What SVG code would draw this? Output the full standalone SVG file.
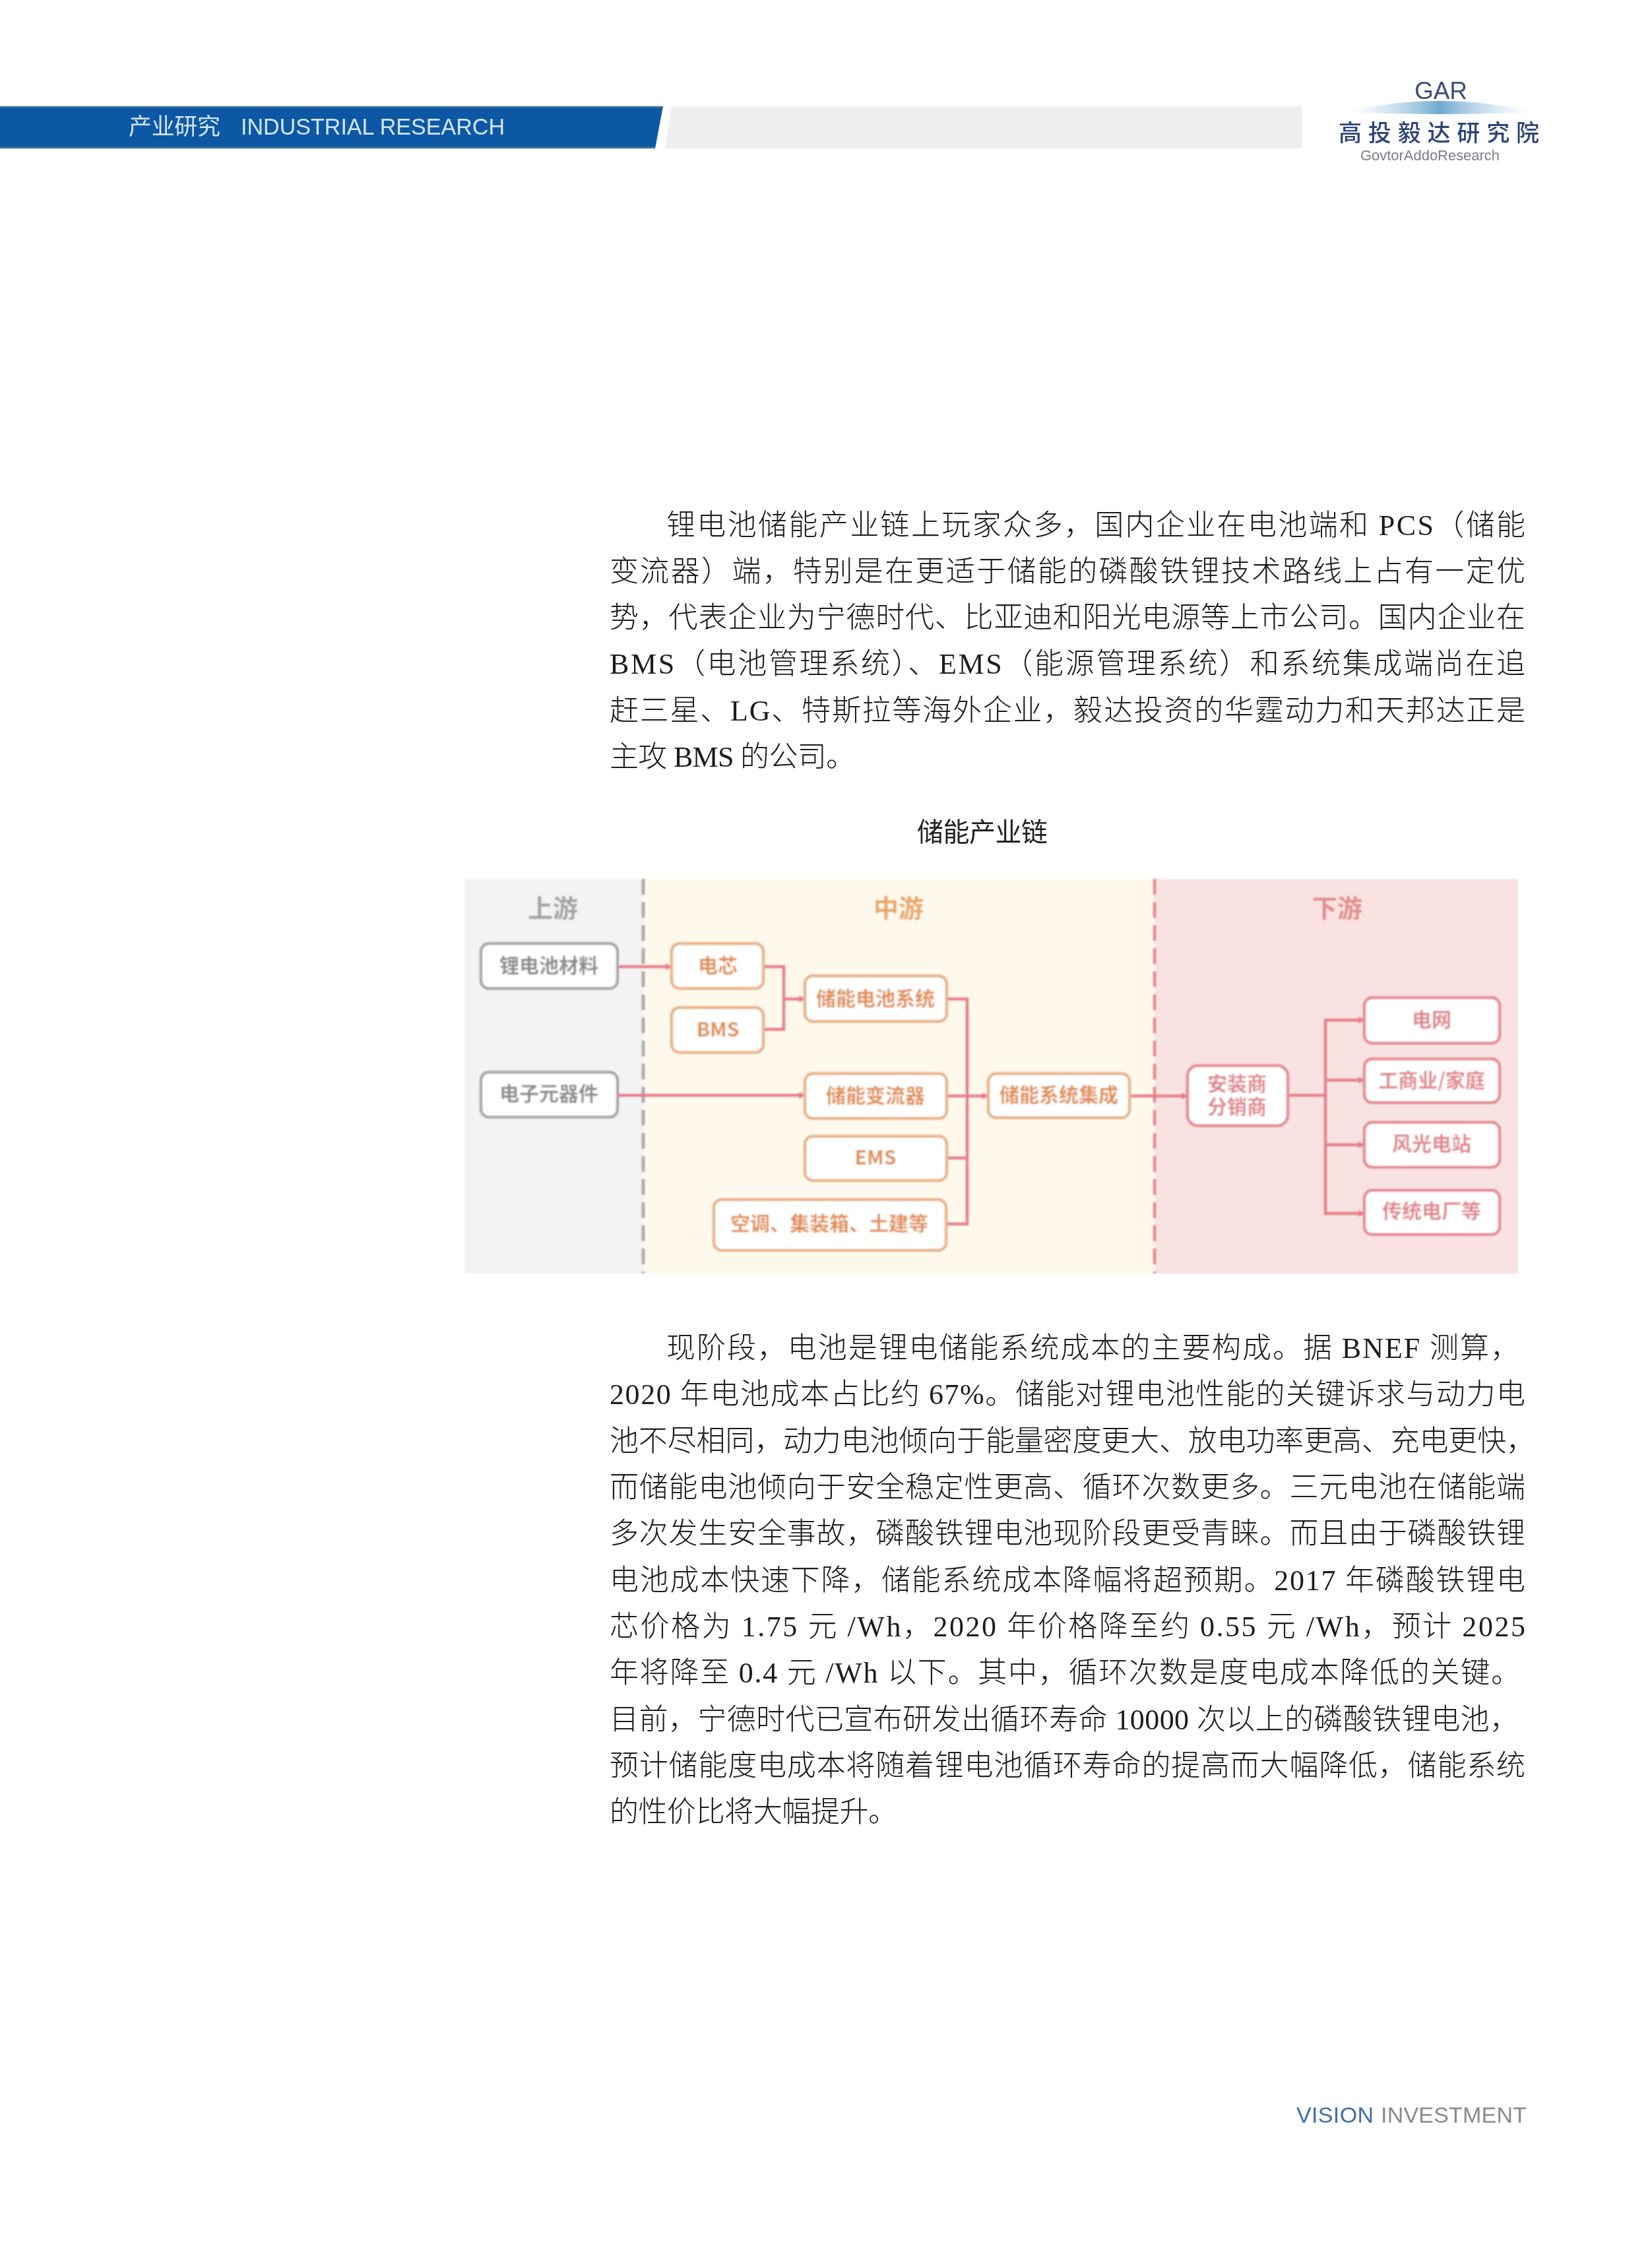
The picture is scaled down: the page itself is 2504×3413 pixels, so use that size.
<svg xmlns="http://www.w3.org/2000/svg" width="2504" height="3413" viewBox="0 0 2504 3413">
<style>
text{font-family:"Liberation Sans","Noto Sans CJK SC",sans-serif}
.body{font-family:"Liberation Serif","Noto Sans CJK SC",serif;font-size:44px;fill:#1f1f1f;font-weight:300}
.n{font-size:30px;font-weight:700;text-anchor:middle;font-family:"Noto Sans CJK SC","Liberation Sans",sans-serif}
.n2{font-size:30px;font-weight:700;text-anchor:middle;font-family:"Liberation Sans","Noto Sans CJK SC",sans-serif}
.head{font-size:38px;font-weight:700;text-anchor:middle;font-family:"Noto Sans CJK SC",sans-serif}
.box{fill:#fff;stroke-width:4.500}
.g .box{stroke:#a9a9a9}.g text{fill:#8c8c8c}
.o .box{stroke:#e9b48a}.o text{fill:#e38e52}
.r .box{stroke:#e68d92}.r text{fill:#e1868b}
.c{fill:none;stroke:#e77f88;stroke-width:4.500}
.div{fill:none;stroke-width:5;stroke-dasharray:24 11}
.soft{filter:url(#s)}
.soft2{filter:url(#t)}
</style>
<defs>
<filter id="s" x="-5%" y="-5%" width="110%" height="110%"><feGaussianBlur stdDeviation="1"/></filter>
<filter id="t" x="-2%" y="-2%" width="104%" height="104%"><feGaussianBlur stdDeviation="0.6"/></filter>
<marker id="a" markerUnits="userSpaceOnUse" markerWidth="10" markerHeight="12" refX="9" refY="6" orient="auto"><path d="M0,1 L10,6 L0,11 Z" fill="#e77f88"/></marker>
<linearGradient id="arc" x1="0" x2="1" y1="0" y2="0"><stop offset="0" stop-color="#cfe2f0" stop-opacity="0"/><stop offset=".5" stop-color="#6fa8d0"/><stop offset="1" stop-color="#cfe2f0" stop-opacity="0"/></linearGradient>
</defs>
<rect width="2504" height="3413" fill="#fff"/>
<g id="header" class="soft2">
<polygon points="0,161 1005,161 993,225 0,225" fill="#0a58a5"/>
<path d="M0,162.500H1005M0,223.500H993" stroke="#3b6b96" stroke-width="3" fill="none"/>
<polygon points="1018,161 1973,161 1973,225 1008,225" fill="#efefee"/>
<text x="195" y="204" font-size="35" fill="#d4e5f5" textLength="139" font-family="Noto Sans CJK SC">产业研究</text>
<text x="365" y="204" font-size="35" fill="#d4e5f5" textLength="400" lengthAdjust="spacingAndGlyphs">INDUSTRIAL RESEARCH</text>
</g>
<g id="logo" class="soft2">
<text x="2144" y="150" font-size="37" fill="#3c4f78" textLength="80">GAR</text>
<path d="M2037,170 Q2182,136 2327,170 Q2182,176 2037,170 Z" fill="url(#arc)"/>
<text x="2029" y="214" font-size="35" fill="#2f4474" font-weight="500" textLength="304">高投毅达研究院</text>
<text x="2062" y="243" font-size="22" fill="#7a8089" textLength="211" lengthAdjust="spacingAndGlyphs">GovtorAddoResearch</text>
</g>
<g id="paragraph-1" class="soft2">
<text class="body" x="1010" y="811" textLength="1302">锂电池储能产业链上玩家众多，国内企业在电池端和 PCS（储能</text>
<text class="body" x="924" y="881" textLength="1388">变流器）端，特别是在更适于储能的磷酸铁锂技术路线上占有一定优</text>
<text class="body" x="924" y="951" textLength="1388">势，代表企业为宁德时代、比亚迪和阳光电源等上市公司。国内企业在</text>
<text class="body" x="924" y="1021" textLength="1388">BMS（电池管理系统）、EMS（能源管理系统）和系统集成端尚在追</text>
<text class="body" x="924" y="1092" textLength="1388">赶三星、LG、特斯拉等海外企业，毅达投资的华霆动力和天邦达正是</text>
<text class="body" x="924" y="1162" textLength="372">主攻 BMS 的公司。</text>
</g>
<text id="caption" x="1390" y="1275" font-size="40" fill="#222" textLength="198" font-family="Noto Sans CJK SC" class="soft2">储能产业链</text>
<g id="panels" class="soft">
<rect x="704" y="1332" width="271" height="598" fill="#f3f3f4"/>
<rect x="975" y="1332" width="775" height="598" fill="#fff9ed"/>
<rect x="1750" y="1332" width="551" height="598" fill="#f8e3e2"/>
<path class="div" stroke="#a9a9a9" d="M975,1332V1930"/>
<path class="div" stroke="#e58a90" d="M1750,1332V1930"/>
<text class="head" x="838" y="1390" fill="#a3a3a3">上游</text>
<text class="head" x="1362" y="1390" fill="#e9a565">中游</text>
<text class="head" x="2027" y="1390" fill="#e48a8a">下游</text>
</g>
<g id="connectors" class="soft">
<path class="c" marker-end="url(#a)" d="M936,1465H1018"/>
<path class="c" marker-end="url(#a)" d="M936,1660H1220"/>
<path class="c" d="M1157,1465H1188V1560H1157"/>
<path class="c" marker-end="url(#a)" d="M1188,1514H1220"/>
<path class="c" d="M1435,1514H1466V1855H1434"/>
<path class="c" marker-end="url(#a)" d="M1435,1661H1498"/>
<path class="c" d="M1435,1755H1466"/>
<path class="c" marker-end="url(#a)" d="M1712,1661H1800"/>
<path class="c" d="M1951,1660H2009"/>
<path class="c" marker-end="url(#a)" d="M2009,1660V1546H2068"/>
<path class="c" marker-end="url(#a)" d="M2009,1637H2068"/>
<path class="c" marker-end="url(#a)" d="M2009,1735H2068"/>
<path class="c" marker-end="url(#a)" d="M2009,1660V1839H2068"/>
</g>
<g id="n1" class="g soft"><rect class="box" x="729" y="1430" width="207" height="68" rx="12"/><text class="n" x="832" y="1474">锂电池材料</text></g>
<g id="n2" class="g soft"><rect class="box" x="729" y="1625" width="207" height="68" rx="12"/><text class="n" x="832" y="1668">电子元器件</text></g>
<g id="n3" class="o soft"><rect class="box" x="1018" y="1430" width="139" height="68" rx="12"/><text class="n" x="1088" y="1474">电芯</text></g>
<g id="n4" class="o soft"><rect class="box" x="1018" y="1527" width="139" height="68" rx="12"/><text class="n" x="1088" y="1571">BMS</text></g>
<g id="n5" class="o soft"><rect class="box" x="1220" y="1479" width="215" height="69" rx="12"/><text class="n" x="1327" y="1524">储能电池系统</text></g>
<g id="n6" class="o soft"><rect class="box" x="1220" y="1627" width="215" height="68" rx="12"/><text class="n" x="1327" y="1671">储能变流器</text></g>
<g id="n7" class="o soft"><rect class="box" x="1220" y="1722" width="215" height="67" rx="12"/><text class="n" x="1327" y="1765">EMS</text></g>
<g id="n8" class="o soft"><rect class="box" x="1082" y="1818" width="352" height="77" rx="12"/><text class="n" x="1257" y="1865">空调、集装箱、土建等</text></g>
<g id="n9" class="o soft"><rect class="box" x="1498" y="1627" width="214" height="67" rx="12"/><text class="n" x="1605" y="1670">储能系统集成</text></g>
<g id="n10" class="r soft"><rect class="box" x="1800" y="1615" width="152" height="91" rx="16"/><text class="n2" x="1875" y="1653">安装商</text><text class="n2" x="1875" y="1688">分销商</text></g>
<g id="n11" class="r soft"><rect class="box" x="2068" y="1512" width="205" height="69" rx="12"/><text class="n" x="2170" y="1556">电网</text></g>
<g id="n12" class="r soft"><rect class="box" x="2068" y="1605" width="205" height="66" rx="12"/><text class="n" x="2170" y="1648">工商业/家庭</text></g>
<g id="n13" class="r soft"><rect class="box" x="2068" y="1701" width="205" height="68" rx="12"/><text class="n" x="2170" y="1744">风光电站</text></g>
<g id="n14" class="r soft"><rect class="box" x="2068" y="1804" width="205" height="67" rx="12"/><text class="n" x="2170" y="1846">传统电厂等</text></g>
<g id="paragraph-2" class="soft2">
<text class="body" x="1010" y="2058" textLength="1293">现阶段，电池是锂电储能系统成本的主要构成。据 BNEF 测算，</text>
<text class="body" x="924" y="2128" textLength="1388">2020 年电池成本占比约 67%。储能对锂电池性能的关键诉求与动力电</text>
<text class="body" x="924" y="2199" textLength="1403">池不尽相同，动力电池倾向于能量密度更大、放电功率更高、充电更快，</text>
<text class="body" x="924" y="2269" textLength="1388">而储能电池倾向于安全稳定性更高、循环次数更多。三元电池在储能端</text>
<text class="body" x="924" y="2339" textLength="1388">多次发生安全事故，磷酸铁锂电池现阶段更受青睐。而且由于磷酸铁锂</text>
<text class="body" x="924" y="2410" textLength="1388">电池成本快速下降，储能系统成本降幅将超预期。2017 年磷酸铁锂电</text>
<text class="body" x="924" y="2480" textLength="1388">芯价格为 1.75 元 /Wh，2020 年价格降至约 0.55 元 /Wh，预计 2025</text>
<text class="body" x="924" y="2550" textLength="1380">年将降至 0.4 元 /Wh 以下。其中，循环次数是度电成本降低的关键。</text>
<text class="body" x="924" y="2621" textLength="1378">目前，宁德时代已宣布研发出循环寿命 10000 次以上的磷酸铁锂电池，</text>
<text class="body" x="924" y="2691" textLength="1388">预计储能度电成本将随着锂电池循环寿命的提高而大幅降低，储能系统</text>
<text class="body" x="924" y="2761" textLength="436">的性价比将大幅提升。</text>
</g>
<g id="footer" class="soft2">
<text x="1965" y="3217" font-size="34" fill="#3f6f9f" textLength="117">VISION</text>
<text x="2093" y="3217" font-size="34" fill="#8a8a8a" textLength="221">INVESTMENT</text>
</g>
</svg>
